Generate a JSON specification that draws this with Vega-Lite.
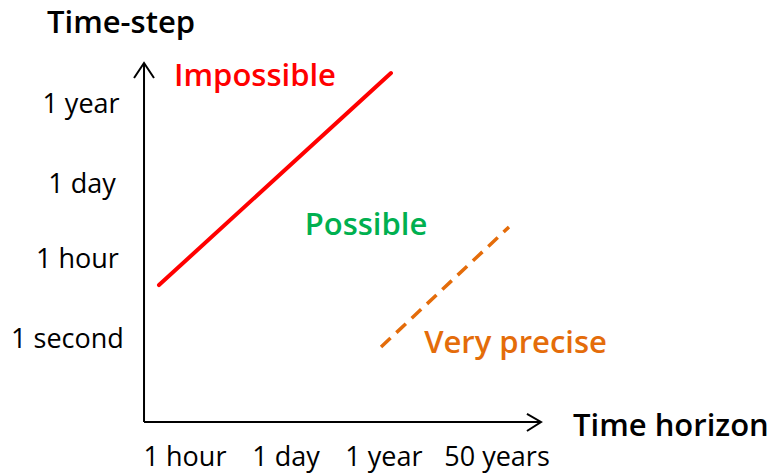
{
  "$schema": "https://vega.github.io/schema/vega-lite/v6.json",
  "width": 777,
  "height": 474,
  "autosize": "none",
  "padding": 0,
  "background": "white",
  "config": {"view": {"stroke": null}},
  "datasets": {
    "segs": [
      {"id": "yaxis", "o": 1, "x": 0.606, "y": -0.077},
      {"id": "yaxis", "o": 2, "x": 0.606, "y": 4.526},
      {"id": "yarrow", "o": 1, "x": 0.510, "y": 4.333},
      {"id": "yarrow", "o": 2, "x": 0.606, "y": 4.526},
      {"id": "yarrow", "o": 3, "x": 0.702, "y": 4.333},
      {"id": "xaxis", "o": 1, "x": 0.606, "y": -0.077},
      {"id": "xaxis", "o": 2, "x": 4.423, "y": -0.077},
      {"id": "xarrow", "o": 1, "x": 4.288, "y": 0.026},
      {"id": "xarrow", "o": 2, "x": 4.423, "y": -0.077},
      {"id": "xarrow", "o": 3, "x": 4.288, "y": -0.192}
    ],
    "impossible": [
      {"x": 0.75, "y": 1.679},
      {"x": 2.981, "y": 4.397}
    ],
    "precise": [
      {"x": 2.885, "y": 0.885},
      {"x": 4.115, "y": 2.423}
    ],
    "ticks": [
      {"label": "1 year", "x": 0.0, "y": 3.885},
      {"label": "1 day", "x": 0.01, "y": 2.859},
      {"label": "1 hour", "x": -0.034, "y": 1.897},
      {"label": "1 second", "x": -0.13, "y": 0.872},
      {"label": "1 hour", "x": 1.0, "y": -0.641},
      {"label": "1 day", "x": 1.971, "y": -0.641},
      {"label": "1 year", "x": 2.913, "y": -0.641},
      {"label": "50 years", "x": 4.0, "y": -0.641}
    ],
    "zones": [
      {"label": "Impossible", "x": 1.673, "y": 4.231, "zone": "Impossible"},
      {"label": "Possible", "x": 2.74, "y": 2.321, "zone": "Possible"},
      {"label": "Very precise", "x": 4.178, "y": 0.808, "zone": "Very precise"}
    ],
    "titles": [
      {"label": "Time-step", "x": -0.327, "y": 4.91},
      {"label": "Time horizon", "x": 4.731, "y": -0.256}
    ]
  },
  "encoding": {
    "x": {"field": "x", "type": "quantitative", "axis": null,
          "scale": {"domain": [-0.7788, 6.6923], "nice": false, "zero": false}},
    "y": {"field": "y", "type": "quantitative", "axis": null,
          "scale": {"domain": [-0.7436, 5.3333], "nice": false, "zero": false}}
  },
  "layer": [
    {
      "data": {"name": "segs"},
      "mark": {"type": "line", "color": "black", "strokeWidth": 2, "strokeCap": "butt", "strokeJoin": "miter"},
      "encoding": {"detail": {"field": "id"}, "order": {"field": "o"}}
    },
    {
      "data": {"name": "impossible"},
      "mark": {"type": "line", "color": "#FF0000", "strokeWidth": 4, "strokeCap": "round"},
      "encoding": {}
    },
    {
      "data": {"name": "precise"},
      "mark": {"type": "line", "color": "#E46C0A", "strokeWidth": 3.5, "strokeDash": [13, 8], "strokeCap": "butt"},
      "encoding": {}
    },
    {
      "data": {"name": "ticks"},
      "mark": {"type": "text", "font": "Open Sans", "fontSize": 27, "align": "center", "baseline": "alphabetic", "color": "black"},
      "encoding": {"text": {"field": "label"}}
    },
    {
      "data": {"name": "titles"},
      "mark": {"type": "text", "font": "Open Sans", "fontSize": 31, "align": "left", "baseline": "alphabetic", "color": "black", "fontWeight": 600},
      "encoding": {"text": {"field": "label"}}
    },
    {
      "data": {"name": "zones"},
      "mark": {"type": "text", "font": "Open Sans", "fontSize": 31, "align": "center", "baseline": "alphabetic", "fontWeight": 600},
      "encoding": {
        "text": {"field": "label"},
        "color": {"field": "zone", "type": "nominal", "legend": null,
                  "scale": {"domain": ["Impossible", "Possible", "Very precise"], "range": ["#FF0000", "#00B050", "#E46C0A"]}}
      }
    }
  ]
}
